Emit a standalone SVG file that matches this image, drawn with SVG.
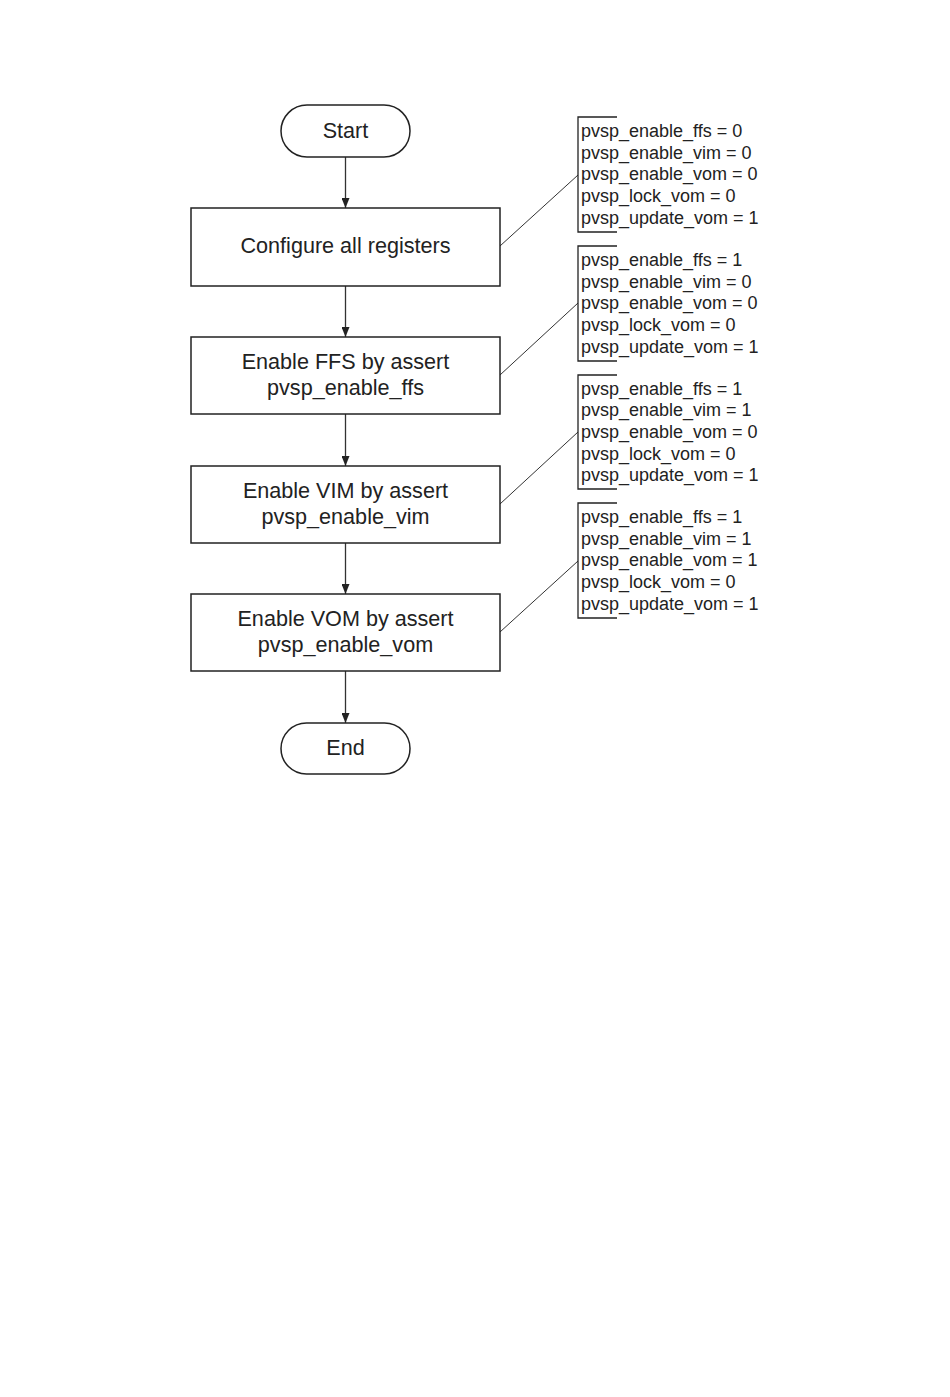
<svg xmlns="http://www.w3.org/2000/svg" width="950" height="1397" viewBox="0 0 950 1397">
<style>
.shape{fill:#fff;stroke:#222;stroke-width:1.5}
.t{font-family:"Liberation Sans",Arial,sans-serif;font-size:21.6px;fill:#222;text-anchor:middle}
.a{font-family:"Liberation Sans",Arial,sans-serif;font-size:18px;fill:#222}
.br{fill:none;stroke:#222;stroke-width:1.3}
.ld{fill:none;stroke:#333;stroke-width:1}
.fl{fill:none;stroke:#333;stroke-width:1.3;marker-end:url(#arr)}
</style>
<defs>
<marker id="arr" viewBox="0 0 10 8" refX="10" refY="4" markerWidth="10" markerHeight="8" markerUnits="userSpaceOnUse" orient="auto">
<path d="M0,0 L10,4 L0,8 z" fill="#222"/>
</marker>
</defs>
<rect width="950" height="1397" fill="#fff"/>
<g id="connectors">
<line class="fl" x1="345.5" y1="157" x2="345.5" y2="208"/>
<line class="fl" x1="345.5" y1="286" x2="345.5" y2="337"/>
<line class="fl" x1="345.5" y1="414" x2="345.5" y2="466"/>
<line class="fl" x1="345.5" y1="543" x2="345.5" y2="594"/>
<line class="fl" x1="345.5" y1="671" x2="345.5" y2="723"/>
<line class="ld" x1="500" y1="246" x2="578" y2="175"/>
<line class="ld" x1="500" y1="375" x2="578" y2="303"/>
<line class="ld" x1="500" y1="504" x2="578" y2="432"/>
<line class="ld" x1="500" y1="632" x2="578" y2="561"/>
</g>
<g id="start">
<rect class="shape" x="281" y="105" width="129" height="52" rx="26" ry="26"/>
<text class="t" x="345.5" y="138">Start</text>
</g>
<g id="configure">
<rect class="shape" x="191" y="208" width="309" height="78"/>
<text class="t" x="345.5" y="253">Configure all registers</text>
</g>
<g id="enable-ffs">
<rect class="shape" x="191" y="337" width="309" height="77"/>
<text class="t" x="345.5" y="369">Enable FFS by assert</text>
<text class="t" x="345.5" y="395">pvsp_enable_ffs</text>
</g>
<g id="enable-vim">
<rect class="shape" x="191" y="466" width="309" height="77"/>
<text class="t" x="345.5" y="498">Enable VIM by assert</text>
<text class="t" x="345.5" y="524">pvsp_enable_vim</text>
</g>
<g id="enable-vom">
<rect class="shape" x="191" y="594" width="309" height="77"/>
<text class="t" x="345.5" y="626">Enable VOM by assert</text>
<text class="t" x="345.5" y="652">pvsp_enable_vom</text>
</g>
<g id="end">
<rect class="shape" x="281" y="723" width="129" height="51" rx="25.5" ry="25.5"/>
<text class="t" x="345.5" y="755">End</text>
</g>
<g id="note1">
<path class="br" d="M617,117 H578 V232 H617"/>
<text class="a" x="581" y="137">pvsp_enable_ffs = 0</text>
<text class="a" x="581" y="158.7">pvsp_enable_vim = 0</text>
<text class="a" x="581" y="180.4">pvsp_enable_vom = 0</text>
<text class="a" x="581" y="202">pvsp_lock_vom = 0</text>
<text class="a" x="581" y="223.7">pvsp_update_vom = 1</text>
</g>
<g id="note2">
<path class="br" d="M617,246 H578 V361 H617"/>
<text class="a" x="581" y="266">pvsp_enable_ffs = 1</text>
<text class="a" x="581" y="287.7">pvsp_enable_vim = 0</text>
<text class="a" x="581" y="309.4">pvsp_enable_vom = 0</text>
<text class="a" x="581" y="331">pvsp_lock_vom = 0</text>
<text class="a" x="581" y="352.7">pvsp_update_vom = 1</text>
</g>
<g id="note3">
<path class="br" d="M617,375 H578 V489 H617"/>
<text class="a" x="581" y="394.5">pvsp_enable_ffs = 1</text>
<text class="a" x="581" y="416.2">pvsp_enable_vim = 1</text>
<text class="a" x="581" y="437.9">pvsp_enable_vom = 0</text>
<text class="a" x="581" y="459.5">pvsp_lock_vom = 0</text>
<text class="a" x="581" y="481.2">pvsp_update_vom = 1</text>
</g>
<g id="note4">
<path class="br" d="M617,503 H578 V618 H617"/>
<text class="a" x="581" y="523">pvsp_enable_ffs = 1</text>
<text class="a" x="581" y="544.7">pvsp_enable_vim = 1</text>
<text class="a" x="581" y="566.4">pvsp_enable_vom = 1</text>
<text class="a" x="581" y="588">pvsp_lock_vom = 0</text>
<text class="a" x="581" y="609.7">pvsp_update_vom = 1</text>
</g>
</svg>
